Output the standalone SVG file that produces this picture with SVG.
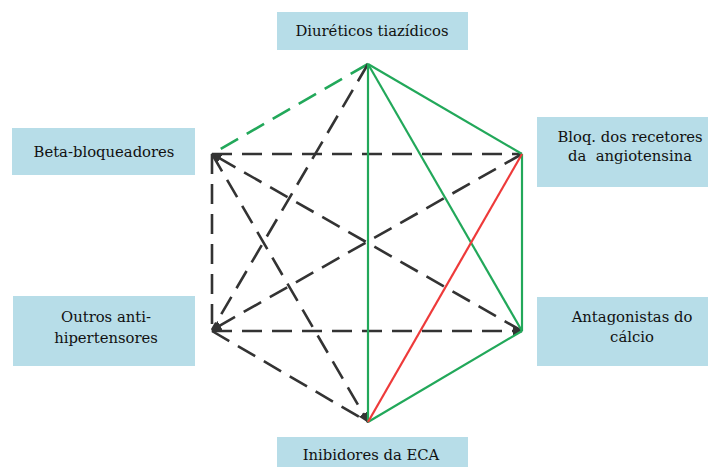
<svg xmlns="http://www.w3.org/2000/svg" width="708" height="467" viewBox="0 0 708 467">
<style>
.box{fill:#b7dde8;}
.lbl{font-family:'DejaVu Serif',serif;font-size:14.8px;fill:#111;text-anchor:middle;}
.dk{stroke:#333;stroke-width:2.6;stroke-dasharray:20 10;fill:none;}
.gd{stroke:#22a85a;stroke-width:2.6;stroke-dasharray:20 10;fill:none;}
.gs{stroke:#22a85a;stroke-width:2.2;fill:none;}
.rs{stroke:#ee3a3a;stroke-width:2.2;fill:none;}
</style>
<defs>
<marker id="ah" viewBox="0 0 10 10" refX="9" refY="5" markerWidth="4" markerHeight="4" orient="auto" markerUnits="strokeWidth">
<path d="M0,0 L10,5 L0,10 z" fill="#333"/>
</marker>
</defs>
<rect width="708" height="467" fill="#fff"/>
<g id="connectors">
<line class="gd" x1="368" y1="64" x2="212" y2="154"/>
<line class="dk" x1="368" y1="64" x2="212" y2="330"/>
<line class="dk" x1="212" y1="154" x2="522" y2="154"/>
<line class="dk" x1="212" y1="154" x2="212" y2="330"/>
<line class="dk" x1="522" y1="331" x2="212" y2="154" marker-end="url(#ah)"/>
<line class="dk" x1="212" y1="154" x2="368" y2="422" marker-end="url(#ah)"/>
<line class="dk" x1="522" y1="154" x2="212" y2="330" marker-end="url(#ah)"/>
<line class="dk" x1="212" y1="331" x2="522" y2="331" marker-end="url(#ah)"/>
<line class="dk" x1="212" y1="331" x2="368" y2="422"/>
<line class="gs" x1="368" y1="64" x2="522" y2="154"/>
<line class="gs" x1="368" y1="64" x2="522" y2="331"/>
<line class="gs" x1="368" y1="64" x2="368" y2="422"/>
<line class="gs" x1="522" y1="154" x2="522" y2="331"/>
<line class="gs" x1="522" y1="331" x2="368" y2="422"/>
<line class="rs" x1="522" y1="154" x2="368" y2="422"/>
</g>
<g id="diureticos">
<rect class="box" x="277" y="12" width="191" height="38"/>
<text class="lbl" x="372" y="36">Diuréticos tiazídicos</text>
</g>
<g id="beta">
<rect class="box" x="12" y="128" width="183" height="47"/>
<text class="lbl" x="104" y="157">Beta-bloqueadores</text>
</g>
<g id="bloq">
<rect class="box" x="537" y="117" width="171" height="70"/>
<text class="lbl" x="630" y="142">Bloq. dos recetores</text>
<text class="lbl" x="630" y="161" xml:space="preserve">da  angiotensina</text>
</g>
<g id="outros">
<rect class="box" x="13" y="296" width="182" height="70"/>
<text class="lbl" x="106" y="322">Outros anti-</text>
<text class="lbl" x="106" y="343">hipertensores</text>
</g>
<g id="antagonistas">
<rect class="box" x="537" y="297" width="171" height="69"/>
<text class="lbl" x="632" y="322">Antagonistas do</text>
<text class="lbl" x="632" y="342">cálcio</text>
</g>
<g id="inibidores">
<rect class="box" x="277" y="437" width="191" height="30"/>
<text class="lbl" x="371" y="460">Inibidores da ECA</text>
</g>
</svg>
